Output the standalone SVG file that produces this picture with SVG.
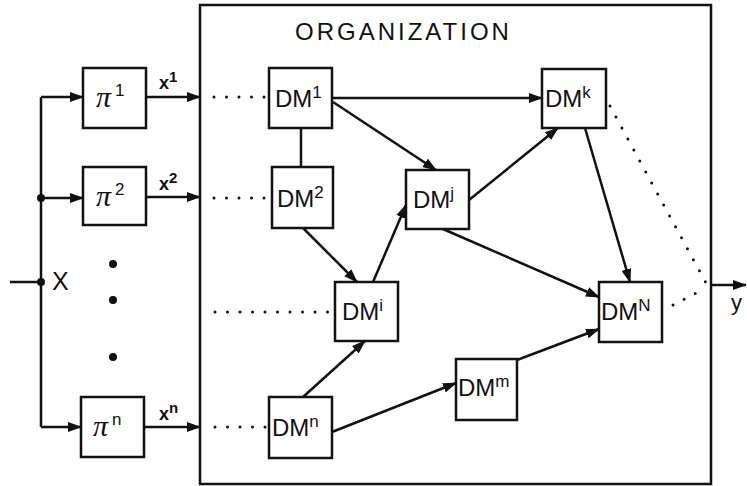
<svg xmlns="http://www.w3.org/2000/svg" width="747" height="486" viewBox="0 0 747 486">
<style>
.box{fill:#fff;stroke:#111;stroke-width:2.5}
.ln{fill:none;stroke:#111;stroke-width:2.5}
.dot{fill:none;stroke:#111;stroke-width:3;stroke-linecap:round;stroke-dasharray:0 12.5}
.t{font-family:"Liberation Sans",Arial,sans-serif;fill:#111}
.dm{font-size:24px}
.sup{font-size:17px}
.pi{font-family:"Liberation Serif","Times New Roman",serif;font-style:italic;font-size:30px;fill:#111}
</style>
<defs>
<marker id="ah" markerUnits="userSpaceOnUse" markerWidth="14" markerHeight="10" refX="13" refY="5" orient="auto">
<path d="M0,0 L14,5 L0,10 z" fill="#111"/>
</marker>
</defs>
<rect id="organization" x="200" y="5" width="511" height="479" fill="none" stroke="#111" stroke-width="2.5"/>
<text class="t" x="295" y="40" font-size="24" letter-spacing="3">ORGANIZATION</text>
<g id="connectors">
<path class="ln" d="M10,282 H41 M41,97 V427"/>
<circle cx="41" cy="198" r="4" fill="#111"/>
<circle cx="41" cy="282" r="4" fill="#111"/>
<path class="ln" marker-end="url(#ah)" d="M41,97 H83"/>
<path class="ln" marker-end="url(#ah)" d="M41,198 H83"/>
<path class="ln" marker-end="url(#ah)" d="M41,427 H81"/>
<path class="ln" marker-end="url(#ah)" d="M146,97 H200"/>
<path class="ln" marker-end="url(#ah)" d="M146,197 H200"/>
<path class="ln" marker-end="url(#ah)" d="M144,427 H200"/>
<path class="ln" marker-end="url(#ah)" d="M332,98 H542"/>
<path class="ln" marker-end="url(#ah)" d="M333,102 L436,170"/>
<path class="ln" d="M301,128 V167"/>
<path class="ln" marker-end="url(#ah)" d="M303,228 L357,282"/>
<path class="ln" marker-end="url(#ah)" d="M373,282 L406,205"/>
<path class="ln" marker-end="url(#ah)" d="M469,200 L558,128"/>
<path class="ln" marker-end="url(#ah)" d="M443,229 L599,297"/>
<path class="ln" marker-end="url(#ah)" d="M585,128 L630,282"/>
<path class="ln" marker-end="url(#ah)" d="M303,397 L365,341"/>
<path class="ln" marker-end="url(#ah)" d="M332,432 L456,383"/>
<path class="ln" marker-end="url(#ah)" d="M517,360 L599,329"/>
<path class="ln" marker-end="url(#ah)" d="M711,285 H746"/>
<path class="dot" d="M214,97 H267"/>
<path class="dot" d="M214,198 H270"/>
<path class="dot" d="M215,312 H333"/>
<path class="dot" d="M215,427 H267"/>
<path class="dot" d="M610,106 L706,283"/>
<path class="dot" d="M673,305 L706,288"/>
<circle cx="113" cy="264" r="4" fill="#111"/>
<circle cx="113" cy="300" r="4" fill="#111"/>
<circle cx="113" cy="357" r="4" fill="#111"/>
</g>
<text class="t" x="52" y="290" font-size="25">X</text>
<text class="t" x="731" y="310" font-size="22">y</text>
<text class="t" x="159" y="89" font-size="18" font-weight="bold">x<tspan font-size="15" dy="-7">1</tspan></text>
<text class="t" x="159" y="190" font-size="18" font-weight="bold">x<tspan font-size="15" dy="-7">2</tspan></text>
<text class="t" x="159" y="420" font-size="18" font-weight="bold">x<tspan font-size="15" dy="-7">n</tspan></text>
<g id="pi1"><rect class="box" x="83" y="68" width="63" height="60"/><text class="pi" x="96" y="107">π<tspan class="t sup" font-style="normal" dx="4" dy="-11">1</tspan></text></g>
<g id="pi2"><rect class="box" x="83" y="167" width="63" height="58"/><text class="pi" x="96" y="206">π<tspan class="t sup" font-style="normal" dx="4" dy="-11">2</tspan></text></g>
<g id="pin"><rect class="box" x="81" y="397" width="63" height="60"/><text class="pi" x="93" y="436">π<tspan class="t sup" font-style="normal" dx="4" dy="-11">n</tspan></text></g>
<g id="dm1"><rect class="box" x="269" y="68" width="63" height="60"/><text class="t dm" x="275" y="107">DM<tspan class="sup" dy="-9">1</tspan></text></g>
<g id="dm2"><rect class="box" x="272" y="167" width="61" height="61"/><text class="t dm" x="277" y="207">DM<tspan class="sup" dy="-9">2</tspan></text></g>
<g id="dmj"><rect class="box" x="406" y="170" width="63" height="59"/><text class="t dm" x="413" y="208">DM<tspan class="sup" dy="-9">j</tspan></text></g>
<g id="dmi"><rect class="box" x="335" y="282" width="63" height="59"/><text class="t dm" x="342" y="320">DM<tspan class="sup" dy="-9">i</tspan></text></g>
<g id="dmn"><rect class="box" x="269" y="397" width="63" height="61"/><text class="t dm" x="272" y="436">DM<tspan class="sup" dy="-9">n</tspan></text></g>
<g id="dmm"><rect class="box" x="456" y="359" width="61" height="61"/><text class="t dm" x="458" y="396">DM<tspan class="sup" dy="-9">m</tspan></text></g>
<g id="dmk"><rect class="box" x="542" y="69" width="64" height="59"/><text class="t dm" x="545" y="107">DM<tspan class="sup" dy="-9">k</tspan></text></g>
<g id="dmN"><rect class="box" x="599" y="282" width="63" height="60"/><text class="t dm" x="601" y="320">DM<tspan class="sup" dy="-9">N</tspan></text></g>
</svg>
